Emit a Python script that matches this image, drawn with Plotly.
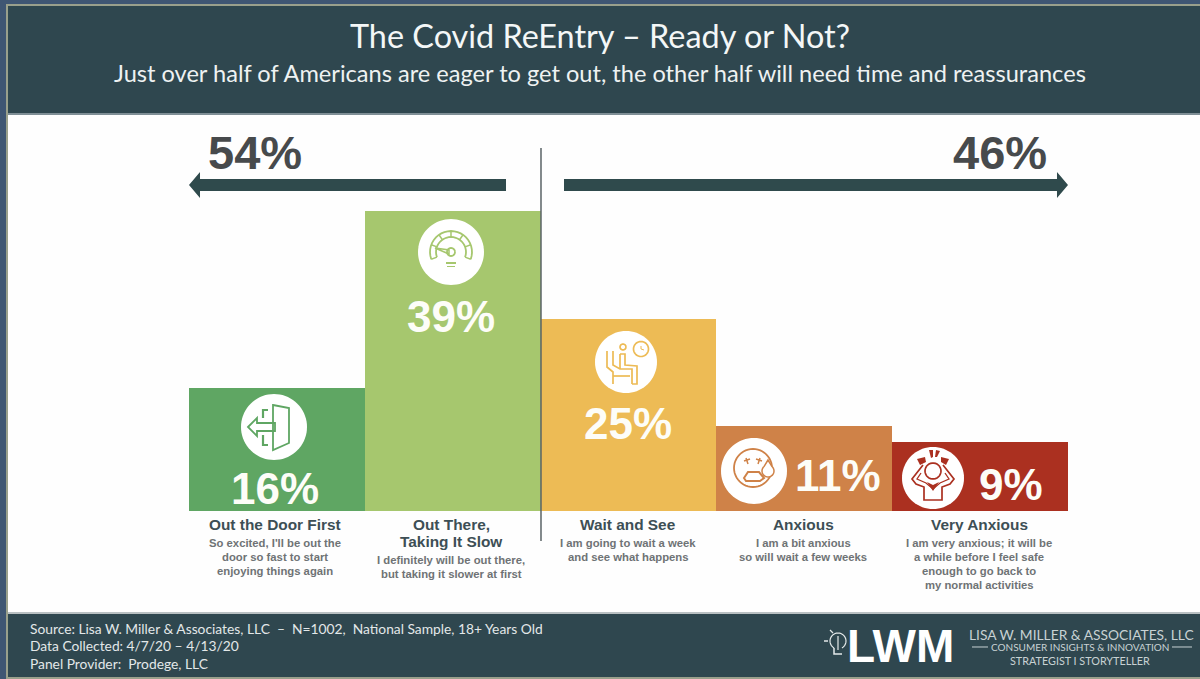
import math
import plotly.graph_objects as go

# Survey results
categories = ["Out the Door First", "Out There, Taking It Slow", "Wait and See", "Anxious", "Very Anxious"]
values = [16, 39, 25, 11, 9]
bar_colors = ["#5fa663", "#a6c76e", "#edbb55", "#cf8248", "#ab3020"]
heading_lines = [
    ["Out the Door First"],
    ["Out There,", "Taking It Slow"],
    ["Wait and See"],
    ["Anxious"],
    ["Very Anxious"],
]
detail_lines = [
    ["So excited, I'll be out the", "door so fast to start", "enjoying things again"],
    ["I definitely will be out there,", "but taking it slower at first"],
    ["I am going to wait a week", "and see what happens"],
    ["I am a bit anxious", "so will wait a few weeks"],
    ["I am very anxious; it will be", "a while before I feel safe", "enough to go back to", "my normal activities"],
]
group_shares = [54, 46]
title_text = "The Covid ReEntry – Ready or Not?"
subtitle_text = "Just over half of Americans are eager to get out, the other half will need time and reassurances"
source_lines = [
    "Source: Lisa W. Miller &amp; Associates, LLC  –  N=1002,  National Sample, 18+ Years Old",
    "Data Collected: 4/7/20 – 4/13/20",
    "Panel Provider:  Prodege, LLC",
]
logo_lines = ["LISA W. MILLER &amp; ASSOCIATES, LLC", "CONSUMER INSIGHTS &amp; INNOVATION", "STRATEGIST I STORYTELLER"]

W, H = 1200, 679
BASE_Y = 511
PX_PER_POINT = 7.69
BAR_LEFT, BAR_RIGHT = 189, 1068
DARK = "#2f474f"
BAND = "#3f5673"
TAN = "#9aa08c"
ARROW = "#2f4a4c"
SANS = "Liberation Sans"
HUMANIST = "Lato"


def fx(x):
    return x / W


def fy(y):
    return 1 - y / H


def poly(points, closed=False):
    d = "M " + " L ".join(f"{fx(x):.5f} {fy(y):.5f}" for x, y in points)
    return d + (" Z" if closed else "")


def arc(cx, cy, r, a0, a1, n=24):
    step = (a1 - a0) / n
    return [(cx + r * math.cos(math.radians(a0 + i * step)),
             cy - r * math.sin(math.radians(a0 + i * step))) for i in range(n + 1)]


shapes = []


def rect(x0, y0, x1, y1, color, layer="below"):
    shapes.append(dict(type="rect", xref="paper", yref="paper", x0=fx(x0), x1=fx(x1),
                       y0=fy(y1), y1=fy(y0), fillcolor=color, line=dict(width=0), layer=layer))


def line(points, color, width=1.5, closed=False, fill=None):
    shapes.append(dict(type="path", xref="paper", yref="paper", path=poly(points, closed),
                       line=dict(color=color, width=width),
                       fillcolor=fill if fill else "rgba(0,0,0,0)", layer="above"))


def solid(points, color):
    shapes.append(dict(type="path", xref="paper", yref="paper", path=poly(points, True),
                       line=dict(width=0), fillcolor=color, layer="above"))


def badge(cx, cy, r):
    solid(arc(cx, cy, r, 0, 360, 72), "#ffffff")


# Page frame, header band and footer band
rect(6, 4, W, H, TAN)
rect(8, 6, W, 113, DARK)
rect(8, 113, W, 115, "#7f8f96")
rect(8, 115, W, 612, "#fefefe")
rect(8, 612, W, 614, "#b9c0c2")
rect(8, 614, W, 677, DARK)

# Direction arrows over the two groups of answers
solid([(189, 185), (200, 172), (200, 179), (506, 179), (506, 191), (200, 191), (200, 198)], ARROW)
solid([(1068, 185), (1057, 172), (1057, 179), (564, 179), (564, 191), (1057, 191), (1057, 198)], ARROW)
line([(541, 148), (541, 541)], "#5a6366", 1.5)

# Door icon
c = bar_colors[0]
badge(274, 427, 33)
line([(273, 405), (289, 408), (289, 443), (273, 450)], c, 1.8, closed=True)
line([(268, 410), (263, 410), (263, 418)], c, 2.2)
line([(263, 435), (263, 445), (268, 445)], c, 2.2)
line([(248, 427), (257, 418), (257, 423), (275, 423), (275, 431), (257, 431), (257, 436)], c, 1.8, closed=True)

# Speedometer icon
c = bar_colors[1]
badge(451, 252, 33)
line(arc(451, 252, 21, -20, 200), c, 1.8)
line(arc(451, 252, 15, -20, 200), c, 1.8)
for ang in (-20, 20, 55, 90, 125, 160, 200):
    line([arc(451, 252, 15, ang, ang, 1)[0], arc(451, 252, 21, ang, ang, 1)[0]], c, 1.5)
line(arc(451, 252, 4, 0, 360, 24), c, 1.8)
line([(435, 248), (449, 250), (449, 254)], c, 1.5, closed=True)
rect(446, 262, 456, 264, c, "above")
rect(447, 266, 455, 267, c, "above")

# Seated person with a clock
c = bar_colors[2]
badge(626, 362, 31)
line(arc(623, 347, 3, 0, 360, 18), c, 1.7)
line(arc(641, 349, 7.5, 0, 360, 36), c, 1.7)
line([(641, 346), (641, 349), (644, 350)], c, 1)
line([(607, 351), (607, 367), (613, 372), (613, 384)], c, 1.7)
line([(613, 351), (613, 365), (620, 369), (632, 369), (632, 384)], c, 1.7)
line([(620, 354), (625, 354), (625, 365), (637, 366), (637, 384), (632, 384)], c, 1.7)
line([(613, 376), (630, 376)], c, 1.7)
line([(620, 354), (620, 369)], c, 1.7)

# Worried face with a tear
c = bar_colors[3]
badge(754, 471, 33)
line(arc(753, 468, 19, 0, 360, 48), c, 1.8)
line([(744, 461), (750, 459)], c)
line([(746, 458), (748, 464)], c)
line([(756, 459), (762, 461)], c)
line([(760, 458), (758, 464)], c)
line([(744, 478), (748, 472), (759, 472), (764, 478), (760, 481), (746, 481)], c, 2, closed=True)
line([(768, 460)] + arc(768, 471, 6, 130, 410, 24), c, 1.5, closed=True, fill="#ffffff")

# Hands-on-head figure with sparks
c = bar_colors[4]
badge(933, 478, 31)
line(arc(933, 471, 8, 0, 360, 30), c, 1.7)
line([(923, 465), (912, 479), (916, 484), (924, 487), (924, 500), (942, 500), (942, 487),
      (950, 484), (954, 479), (943, 465)], c, 1.7)
line([(921, 473), (917, 479), (926, 483), (933, 489), (940, 483), (949, 479), (945, 473)], c, 1.3)
solid([(927, 482), (933, 491), (939, 482), (933, 485)], c)
solid([(917, 459), (925, 457), (926, 462), (920, 465)], c)
solid([(929, 450), (933, 450), (933, 457), (931, 458)], c)
solid([(936, 450), (940, 451), (937, 457), (935, 457)], c)
solid([(941, 457), (949, 459), (946, 465), (941, 462)], c)

# Light bulb beside the firm's initials
bulb = "#e4e9ea"
line(arc(838, 641, 8, -60, 240, 24), bulb, 1.2)
line([(834, 648), (834, 654), (842, 654)], bulb, 1.5)
line([(838, 636), (838, 650)], bulb, 1.2)
line([(824, 641), (828, 641)], bulb, 1.5)
line([(830, 630), (833, 633)], bulb, 1.2)
line([(972, 647), (988, 647)], "#c8d2d4", 1)
line([(1172, 647), (1192, 647)], "#c8d2d4", 1)

annotations = []


def text(s, x, y, size, color, family=HUMANIST, bold=False, anchor="center"):
    annotations.append(dict(text=f"<b>{s}</b>" if bold else s, xref="paper", yref="paper",
                            x=fx(x), y=fy(y), xanchor=anchor, yanchor="middle", showarrow=False,
                            font=dict(family=family, size=size, color=color), align=anchor))


text(title_text, 600, 35, 32.4, "#f4f7f7")
text(subtitle_text, 600, 73, 23.6, "#eef2f2")

text(f"{group_shares[0]}%", 255, 153, 47, "#474a4c", SANS, True)
text(f"{group_shares[1]}%", 1000, 153, 47, "#474a4c", SANS, True)

# Value labels sit next to each badge and are built from the same values as the bars
label_pos = [(275, 488), (451, 316), (628, 423), (838, 476), (1011, 484)]
for v, (x, y) in zip(values, label_pos):
    text(f"{v}%", x, y, 44, "#fdfdf8", SANS, True)

# Captions under the bars
caption_x = [274.5, 451.5, 628, 803, 979]
for cx, heads, details in zip(caption_x, heading_lines, detail_lines):
    y = 526
    for h in heads:
        text(h, cx, y - 1.5, 15.4, "#3d4f55", SANS, True)
        y += 17
    y -= 0.5
    for d in details:
        text(d, cx, y, 11.3, "#6f7375", SANS, True)
        y += 14.2

for s, y in zip(source_lines, (628, 645.5, 663)):
    text(s, 28, y, 13.8, "#e3e8e9", anchor="left")

text("LWM", 900, 646, 46, "#ffffff", SANS, True)
text(logo_lines[0], 1081, 634, 13.8, "#c8d2d4")
text(logo_lines[1], 1080, 647, 10, "#c8d2d4")
text(logo_lines[2], 1080, 660, 10.8, "#c8d2d4")

fig = go.Figure(go.Bar(x=categories, y=values, marker=dict(color=bar_colors, line=dict(width=0)),
                       hoverinfo="skip", width=1))
fig.update_layout(
    width=W, height=H, margin=dict(l=0, r=0, t=0, b=0, pad=0),
    paper_bgcolor=BAND, plot_bgcolor="rgba(0,0,0,0)", showlegend=False, bargap=0,
    shapes=shapes, annotations=annotations,
    xaxis=dict(domain=[fx(BAR_LEFT), fx(BAR_RIGHT)], visible=False, range=[-0.5, 4.5]),
    yaxis=dict(domain=[fy(BASE_Y), 1], visible=False, range=[0, BASE_Y / PX_PER_POINT]),
)
fig.write_html("out.html", config=dict(displayModeBar=False))
